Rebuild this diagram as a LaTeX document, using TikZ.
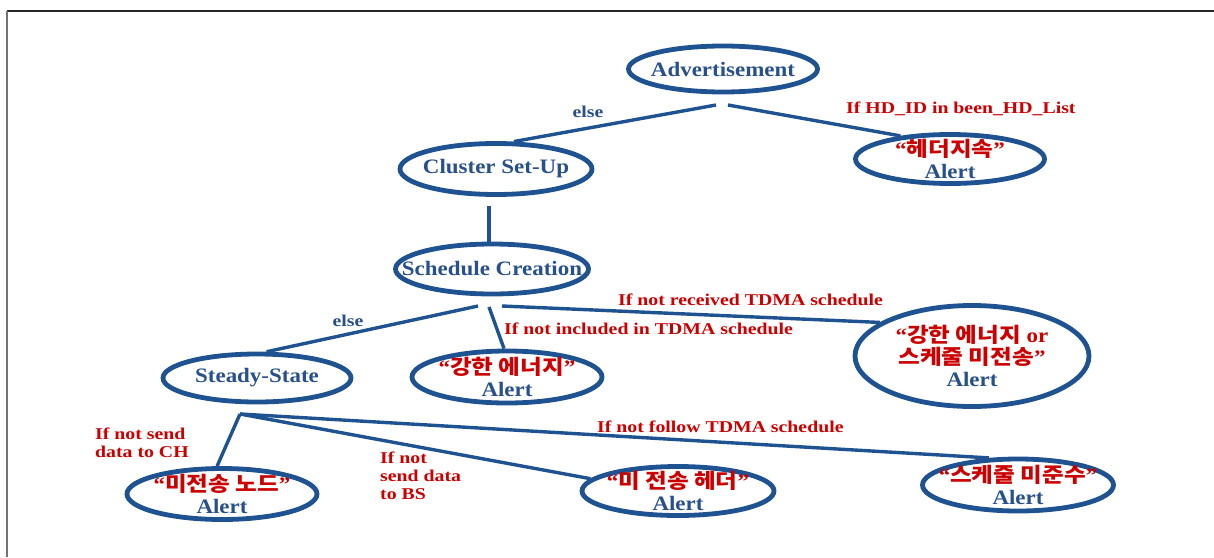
\documentclass[tikz,border=0pt]{standalone}
\usepackage{fontspec}
\setmainfont{Liberation Serif}
\newfontfamily\tms{Liberation Serif}[FakeStretch=1.12]
\newfontfamily\tmsl{Liberation Serif}[FakeStretch=1.2]
\newfontfamily\kr{Noto Sans CJK KR}[FakeStretch=1.15]
\usetikzlibrary{shapes.geometric}
\definecolor{ovalblue}{RGB}{30,82,145}
\definecolor{txtblue}{RGB}{40,80,140}
\definecolor{labred}{RGB}{204,0,0}
\newcommand{\kq}[1]{{\color{labred}\char"201C{\kr #1}\char"201D}}
\tikzset{
  oval/.style={ellipse, draw=ovalblue, line width=4.8pt, inner sep=0pt},
  ntext/.style={text=txtblue, font=\tms\bfseries\fontsize{20.5}{22}\selectfont, align=center, inner sep=0pt},
  rlab/.style={text=labred, font=\tmsl\bfseries\fontsize{16.5}{18}\selectfont, inner sep=0pt, anchor=west, align=left},
  blab/.style={text=txtblue, font=\tmsl\bfseries\fontsize{16.5}{18}\selectfont, inner sep=0pt},
  conn/.style={draw=ovalblue, line width=3.4pt}
}
\begin{document}
\begin{tikzpicture}[x=1pt,y=-1pt]
\useasboundingbox (0,0) rectangle (1214,557);
\draw[line width=1.5pt, black!85] (7,11) -- (1214,11);
\draw[line width=1.5pt, black!55] (7,11) -- (7,557);

% ovals
\node[oval, minimum width=189pt, minimum height=46pt] (adv) at (723,69) {};
\node[oval, minimum width=192pt, minimum height=51pt] (cluster) at (496,169) {};
\node[oval, minimum width=189pt, minimum height=49pt] (hdr) at (950,159) {};
\node[oval, minimum width=193pt, minimum height=50pt] (sched) at (492,269) {};
\node[oval, minimum width=188pt, minimum height=48pt] (steady) at (257,378) {};
\node[oval, minimum width=190pt, minimum height=52pt] (energy) at (507,377) {};
\node[oval, minimum width=234pt, minimum height=101pt] (energy2) at (972,356) {};
\node[oval, minimum width=190pt, minimum height=51pt] (nsnode) at (222,494) {};
\node[oval, minimum width=192pt, minimum height=49pt] (nshead) at (678,491) {};
\node[oval, minimum width=191pt, minimum height=52pt] (sched2) at (1018,485) {};

% texts
\node[ntext] (adv-t) at (adv) {Advertisement};
\node[ntext] (cluster-t) at (cluster) {Cluster Set-Up};
\node[ntext] (hdr-t) at (hdr) {\kq{헤더지속}\\Alert};
\node[ntext] (sched-t) at (sched) {Schedule Creation};
\node[ntext] (steady-t) at (steady) {Steady-State};
\node[ntext] (energy-t) at (energy) {\kq{강한 에너지}\\Alert};
\node[ntext] (energy2-t) at (energy2) {{\color{labred}\char"201C{\kr 강한 에너지} or}\\{\color{labred}{\kr 스케줄 미전송}\char"201D}\\Alert};
\node[ntext] (nsnode-t) at (nsnode) {\kq{미전송 노드}\\Alert};
\node[ntext] (nshead-t) at (nshead) {\kq{미 전송 헤더}\\Alert};
\node[ntext] (sched2-t) at (sched2) {\kq{스케줄 미준수}\\Alert};

% connectors
\coordinate (advL) at (716,105);
\coordinate (advR) at (728,105);
\draw[conn] (advL) -- (cluster.57);
\draw[conn] (advR) -- (hdr.155);
\coordinate (clB) at (489,206);
\draw[conn] (clB) -- (clB |- sched.north);
\coordinate (scL) at (478,306);
\coordinate (scM) at (489,307);
\coordinate (scR) at (502,306);
\draw[conn] (scL) -- (steady.70);
\draw[conn] (scM) -- (energy.96);
\draw[conn] (scR) -- (energy2.160);
\coordinate (stB) at (240,414);
\draw[conn] (stB) -- (nsnode.100);
\draw[conn] (stB) -- (nshead.172);
\draw[conn] (stB) -- (sched2.137);

% labels
\node[blab] (else1) at (588,112) {else};
\node[rlab] (hdrlab) at (846,109) {If HD\_ID in been\_HD\_List};
\node[blab] (else2) at (348,321) {else};
\node[rlab] (recv) at (618,300) {If not received TDMA schedule};
\node[rlab] (incl) at (504,329) {If not included in TDMA schedule};
\node[rlab] (tch) at (95,443) {If not send\\data to CH};
\node[rlab] (tbs) at (380,476) {If not\\send data\\to BS};
\node[rlab] (follow) at (597,427) {If not follow TDMA schedule};
\end{tikzpicture}
\end{document}
